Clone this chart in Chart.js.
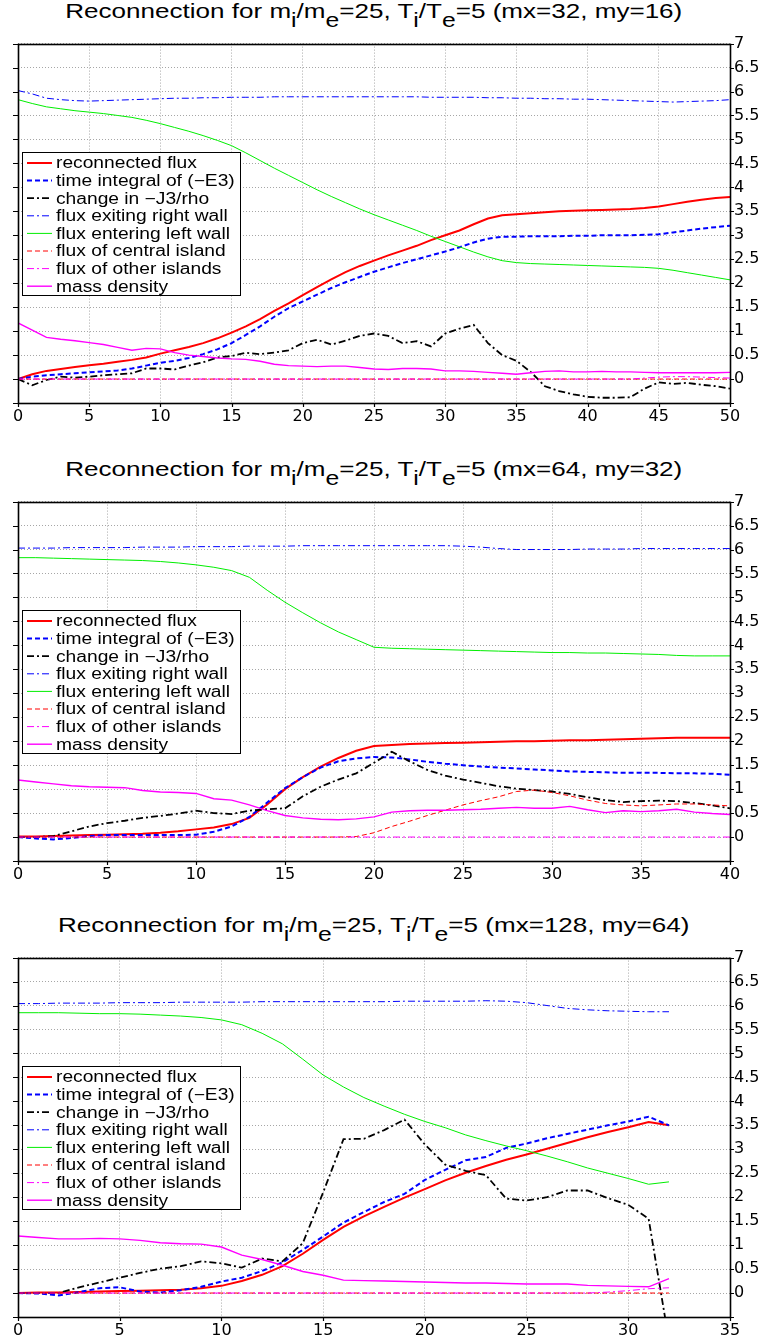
<!DOCTYPE html>
<html lang="en">
<head>
<meta charset="UTF-8">
<title>Reconnection for mi/me=25, Ti/Te=5</title>
<script src="https://cdn.jsdelivr.net/npm/chart.js"></script>
<style>
    body {
        margin: 0;
        width: 767px;
        height: 1339px;
        position: relative;
        overflow: hidden;
        background: #fff;
        font-family: "Liberation Sans", Arial, sans-serif;
    }
    .title {
        position: absolute;
        left: 18px;
        width: 712px;
        height: 24px;
        line-height: 24px;
        text-align: center;
        font-size: 21px;
        color: #000;
        white-space: nowrap;
    }
    .title span {
        display: inline-block;
        transform: scaleX(1.24);
    }
    .title sub {
        font-size: 0.95em;
        vertical-align: -0.45em;
        line-height: 0;
    }
    canvas {
        position: absolute;
        left: 0;
    }
</style>
</head>
<body>
<div class="title" style="top:-1px"><span>Reconnection for m<sub>i</sub>/m<sub>e</sub>=25, T<sub>i</sub>/T<sub>e</sub>=5 (mx=32, my=16)</span></div>
<canvas id="chart1" width="767" height="405" style="top:30px"></canvas>

<div class="title" style="top:457px"><span>Reconnection for m<sub>i</sub>/m<sub>e</sub>=25, T<sub>i</sub>/T<sub>e</sub>=5 (mx=64, my=32)</span></div>
<canvas id="chart2" width="767" height="405" style="top:488px"></canvas>

<div class="title" style="top:913px"><span>Reconnection for m<sub>i</sub>/m<sub>e</sub>=25, T<sub>i</sub>/T<sub>e</sub>=5 (mx=128, my=64)</span></div>
<canvas id="chart3" width="767" height="405" style="top:944px"></canvas>

<script>
// legend labels (same for all three panels)
const labels = ['reconnected flux', 'time integral of (\u2212E3)', 'change in \u2212J3/rho',
    'flux exiting right wall', 'flux entering left wall', 'flux of central island',
    'flux of other islands', 'mass density'];

// ---- panel 1: mx=32, my=16 ----
const t1 = [0,1,2,3,4,5,6,7,8,9,10,11,12,13,14,15,16,17,18,19,20,21,22,23,24,25,26,27,28,29,30,
    31,32,33,34,35,36,37,38,39,40,41,42,43,44,45,46,47,48,49,50];
const p1Reconnected = [0,0.1,0.17,0.21,0.25,0.29,0.32,0.36,0.4,0.45,0.53, 0.6,0.67,0.75,0.85,0.97,1.1,1.25,1.42,1.58,1.75,
    1.92,2.08,2.23,2.36,2.47,2.58,2.68,2.78,2.9,3.0, 3.1,3.23,3.35,3.42,3.44,3.46,3.48,3.5,3.51,3.52,
    3.53,3.54,3.55,3.57,3.6,3.65,3.7,3.74,3.78,3.8];
const p1Integral = [0,0.05,0.08,0.1,0.12,0.14,0.16,0.18,0.22,0.28,0.34, 0.38,0.44,0.52,0.62,0.75,0.92,1.1,1.3,1.48,1.62,
    1.76,1.9,2.02,2.13,2.24,2.33,2.42,2.5,2.58,2.66, 2.75,2.85,2.93,2.97,2.97,2.98,2.98,2.98,2.99,2.99,
    3.0,3.0,3.0,3.01,3.02,3.06,3.1,3.14,3.17,3.2];
const p1J3 = [0,-0.13,-0.02,0.05,0.03,0.05,0.08,0.1,0.12,0.22,0.22, 0.2,0.28,0.35,0.45,0.48,0.55,0.52,0.55,0.6,0.75,
    0.82,0.72,0.8,0.9,0.95,0.9,0.75,0.79,0.68,0.95, 1.05,1.13,0.75,0.5,0.38,0.15,-0.15,-0.25,-0.32,-0.37,
    -0.39,-0.39,-0.38,-0.2,-0.07,-0.1,-0.08,-0.12,-0.15,-0.2];
const p1Right = [6.02,5.95,5.86,5.83,5.81,5.8,5.81,5.82,5.83,5.84,5.85, 5.86,5.86,5.87,5.87,5.88,5.88,5.88,5.89,5.89,5.89,
    5.89,5.89,5.89,5.89,5.89,5.89,5.89,5.89,5.88,5.88, 5.88,5.88,5.87,5.87,5.86,5.86,5.85,5.85,5.84,5.84,
    5.83,5.82,5.81,5.8,5.79,5.78,5.79,5.8,5.81,5.83];
const p1Left = [5.83,5.75,5.68,5.64,5.6,5.57,5.54,5.5,5.46,5.4,5.33, 5.25,5.17,5.08,4.98,4.87,4.72,4.56,4.4,4.25,4.1,
    3.95,3.81,3.68,3.55,3.43,3.32,3.21,3.1,2.98,2.87, 2.76,2.65,2.55,2.47,2.43,2.41,2.4,2.39,2.38,2.37,
    2.36,2.35,2.34,2.33,2.31,2.27,2.22,2.17,2.12,2.07];
const p1Central = [0,0,0,0,0,0,0,0,0,0,0, 0,0,0,0,0,0,0,0,0,0, 0,0,0,0,0,0,0,0,0,0,
    0,0,0,0,0,0,0,0,0,0, 0,0,0,0,0,0,0,0,0,0];
const p1Islands = [0,0,0,0,0,0,0,0,0,0,0, 0,0,0,0,0,0,0,0,0,0, 0,0,0,0,0,0,0,0,0,0,
    0,0,0,0,0,0,0,0,0,0, 0,0,0,0.02,0.04,0.05,0.05,0.04,0.03,0.02];
const p1Mass = [1.17,1.02,0.87,0.83,0.8,0.76,0.72,0.66,0.6,0.64,0.63, 0.55,0.5,0.47,0.44,0.42,0.41,0.37,0.31,0.28,0.27,
    0.26,0.27,0.27,0.24,0.21,0.2,0.22,0.22,0.21,0.17, 0.17,0.16,0.14,0.12,0.1,0.13,0.16,0.17,0.15,0.15,
    0.16,0.15,0.15,0.14,0.13,0.13,0.13,0.13,0.13,0.14];

// ---- panel 2: mx=64, my=32 ----
const t2 = [0,1,2,3,4,5,6,7,8,9,10,11,12,13,14,15,16,17,18,19,20,21,22,23,24,25,26,27,28,29,30,
    31,32,33,34,35,36,37,38,39,40];
const p2Reconnected = [0.01,0.01,0.02,0.03,0.04,0.05,0.06,0.07,0.09,0.12,0.16, 0.2,0.27,0.4,0.68,1.0,1.25,1.47,1.65,1.8,1.9,
    1.92,1.94,1.95,1.96,1.97,1.98,1.99,2.0,2.0,2.01, 2.02,2.02,2.03,2.04,2.05,2.06,2.07,2.07,2.07,2.07];
const p2Integral = [0,-0.03,-0.05,-0.02,0.02,0.04,0.04,0.04,0.04,0.04,0.05, 0.11,0.22,0.42,0.72,1.02,1.25,1.45,1.58,1.64,1.67,
    1.66,1.62,1.57,1.53,1.5,1.47,1.45,1.43,1.41,1.39, 1.37,1.36,1.35,1.34,1.34,1.34,1.33,1.33,1.32,1.3];
const p2J3 = [0,0,0.02,0.12,0.22,0.29,0.34,0.4,0.44,0.49,0.55, 0.5,0.48,0.55,0.58,0.6,0.85,1.05,1.2,1.33,1.55,
    1.78,1.58,1.4,1.28,1.2,1.13,1.06,1.01,0.98,0.95, 0.9,0.83,0.77,0.73,0.75,0.76,0.75,0.71,0.66,0.6];
const p2Right = [6.03,6.03,6.03,6.04,6.04,6.04,6.04,6.05,6.05,6.05,6.06, 6.06,6.06,6.07,6.07,6.07,6.08,6.08,6.08,6.08,6.08,
    6.08,6.08,6.08,6.08,6.07,6.05,6.02,6.0,6.0,6.0, 6.0,6.01,6.01,6.01,6.02,6.02,6.02,6.02,6.02,6.02];
const p2Left = [5.83,5.83,5.82,5.81,5.8,5.79,5.78,5.77,5.75,5.72,5.68, 5.63,5.56,5.42,5.15,4.9,4.68,4.47,4.28,4.12,3.96,
    3.94,3.93,3.92,3.91,3.9,3.89,3.88,3.87,3.86,3.85, 3.85,3.84,3.84,3.83,3.82,3.81,3.79,3.78,3.78,3.78];
const p2Central = [0,0,0,0,0,0,0,0,0,0,0, 0,0,0,0,0,0,0,0,0.01,0.09,
    0.22,0.33,0.45,0.56,0.67,0.76,0.84,0.95,0.98,0.93, 0.86,0.77,0.7,0.67,0.65,0.67,0.69,0.69,0.67,0.65];
const p2Islands = [0,0,0,0,0,0,0,0,0,0,0, 0,0,0,0,0,0,0,0,0,0,
    0,0,0,0,0,0,0,0,0,0, 0,0,0,0,0,0,0,0,0,0];
const p2Mass = [1.19,1.15,1.11,1.07,1.05,1.04,1.03,0.97,0.94,0.93,0.91, 0.8,0.77,0.67,0.55,0.45,0.4,0.37,0.36,0.38,0.42,
    0.52,0.55,0.56,0.56,0.57,0.58,0.6,0.62,0.6,0.6, 0.64,0.57,0.51,0.55,0.53,0.55,0.58,0.52,0.49,0.47];

// ---- panel 3: mx=128, my=64 ----
const t3 = [0,1,2,3,4,5,6,7,8,9,10,11,12,13,14,15,16,17,18,19,20,21,22,23,24,25,26,27,28,29,30,31,32];
const p3Reconnected = [0,0.01,0.01,0.02,0.03,0.04,0.05,0.06,0.07,0.1,0.15, 0.25,0.38,0.56,0.82,1.11,1.38,1.6,1.8,1.99,2.17,
    2.35,2.51,2.65,2.78,2.89,3.01,3.13,3.25,3.36,3.46, 3.57,3.5];
const p3Integral = [0,-0.01,-0.05,0.02,0.1,0.12,0.03,0.01,0.06,0.13,0.24, 0.32,0.46,0.64,0.9,1.18,1.47,1.69,1.9,2.07,2.36,
    2.57,2.77,2.84,3.03,3.12,3.23,3.32,3.41,3.5,3.58, 3.68,3.5];
const p3J3 = [0,0,0,0.12,0.22,0.32,0.42,0.51,0.56,0.66,0.62, 0.53,0.72,0.66,1.04,2.1,3.21,3.22,3.4,3.62,3.1,
    2.68,2.55,2.46,1.97,1.93,2.0,2.14,2.14,1.98,1.84, 1.55,-1.0];
const p3Right = [6.04,6.04,6.05,6.05,6.05,6.06,6.06,6.06,6.07,6.07,6.07, 6.07,6.08,6.08,6.08,6.08,6.08,6.08,6.08,6.09,6.09,
    6.09,6.09,6.1,6.09,6.06,6.0,5.94,5.91,5.89,5.88, 5.87,5.87];
const p3Left = [5.85,5.85,5.85,5.84,5.83,5.83,5.82,5.8,5.78,5.75,5.7, 5.6,5.42,5.2,4.88,4.55,4.3,4.08,3.9,3.73,3.58,
    3.45,3.3,3.18,3.07,2.97,2.86,2.74,2.61,2.5,2.39, 2.27,2.32];
const p3Central = [0,0,0,0,0,0,0,0,0,0,0, 0,0,0,0,0,0,0,0,0,0, 0,0,0,0,0,0,0,0,0,0, 0,0];
const p3Islands = [0,0,0,0,0,0,0,0,0,0,0, 0,0,0,0,0,0,0,0,0,0, 0,0,0,0,0,0,0,0,0.02,0.05, 0.09,0.11];
const p3Mass = [1.19,1.16,1.13,1.13,1.14,1.13,1.1,1.05,1.03,1.02,0.96, 0.79,0.7,0.58,0.45,0.37,0.27,0.26,0.25,0.24,0.23,
    0.22,0.21,0.21,0.2,0.19,0.19,0.19,0.16,0.15,0.14, 0.13,0.3];

// matlab-like line styles, one per legend entry
const styles = [
    { color: '#ff0000', width: 2,   dash: [] },
    { color: '#0000ff', width: 2,   dash: [5, 3] },
    { color: '#000000', width: 1.8, dash: [7, 3, 2, 3] },
    { color: '#0000ff', width: 1,   dash: [7, 3, 2, 3] },
    { color: '#00ee00', width: 1,   dash: [] },
    { color: '#ff0000', width: 1,   dash: [5, 3] },
    { color: '#ff00ff', width: 1,   dash: [7, 3, 2, 3] },
    { color: '#ff00ff', width: 1.4, dash: [] }
];

// box round the axes + outward tick marks
const boxTicks = {
    id: 'boxTicks',
    afterDatasetsDraw(chart) {
        const { ctx, chartArea: a, scales } = chart;
        const L = Math.round(a.left), R = Math.round(a.right), T = Math.round(a.top), B = Math.round(a.bottom);
        ctx.save();
        ctx.setLineDash([]);
        ctx.strokeStyle = '#000';
        ctx.lineWidth = 1.2;
        ctx.beginPath();
        scales.x.ticks.forEach(tk => {
            const px = Math.round(scales.x.getPixelForValue(tk.value)) + 0.5;
            ctx.moveTo(px, B); ctx.lineTo(px, B + 4);
        });
        scales.y.ticks.forEach(tk => {
            const py = Math.round(scales.y.getPixelForValue(tk.value)) + 0.5;
            ctx.moveTo(L, py); ctx.lineTo(L - 5, py);
            ctx.moveTo(R, py); ctx.lineTo(R + 4, py);
        });
        ctx.stroke();
        ctx.lineWidth = 1.6;
        ctx.strokeRect(L + 0.5, T + 0.5, R - L, B - T);
        ctx.restore();
    }
};

// legend box on the west side of the axes
const westLegend = {
    id: 'westLegend',
    afterDraw(chart) {
        const { ctx, chartArea: a } = chart;
        const w = 218, h = 143, rowH = 17.6;
        const x0 = Math.round(a.left) + 4;
        const y0 = Math.round((a.top + a.bottom) / 2 - h / 2);
        ctx.save();
        ctx.setLineDash([]);
        ctx.fillStyle = '#fff';
        ctx.fillRect(x0, y0, w, h);
        ctx.strokeStyle = '#000';
        ctx.lineWidth = 1;
        ctx.strokeRect(x0 + 0.5, y0 + 0.5, w, h);
        chart.data.datasets.forEach((ds, i) => {
            const cy = y0 + 11 + i * rowH;
            ctx.beginPath();
            ctx.setLineDash(ds.borderDash);
            ctx.strokeStyle = ds.borderColor;
            ctx.lineWidth = ds.borderWidth;
            ctx.moveTo(x0 + 5, cy);
            ctx.lineTo(x0 + 30, cy);
            ctx.stroke();
            ctx.setLineDash([]);
            ctx.save();
            ctx.translate(x0 + 34, cy);
            ctx.scale(1.2, 1);
            ctx.fillStyle = '#000';
            ctx.font = '16px "Liberation Sans", Arial, sans-serif';
            ctx.textBaseline = 'middle';
            ctx.fillText(ds.label, 0, 1);
            ctx.restore();
        });
        ctx.restore();
    }
};

function makeChart(id, t, series, xMax) {
    const datasets = series.map((vals, i) => ({
        label: labels[i],
        data: t.map((x, j) => ({ x: x, y: vals[j] })),
        borderColor: styles[i].color,
        borderWidth: styles[i].width,
        borderDash: styles[i].dash,
        pointRadius: 0,
        tension: 0,
        fill: false,
        order: series.length - 1 - i
    }));
    const tickFont = { family: '"DejaVu Sans", sans-serif', size: 16 };
    const gridStyle = { color: 'rgba(0,0,0,0.35)', lineWidth: 1, drawTicks: false };
    return new Chart(document.getElementById(id), {
        type: 'line',
        data: { datasets: datasets },
        plugins: [boxTicks, westLegend],
        options: {
            responsive: false,
            animation: false,
            events: [],
            layout: { padding: { top: 10, left: 18, right: 0, bottom: 0 } },
            plugins: { legend: { display: false }, tooltip: { enabled: false } },
            scales: {
                x: {
                    type: 'linear',
                    min: 0,
                    max: xMax,
                    ticks: { stepSize: 5, color: '#000', font: tickFont, padding: 4, maxRotation: 0, autoSkip: false },
                    grid: gridStyle,
                    border: { display: false, dash: [1, 2] },
                    afterFit(s) { s.height = 32; }
                },
                y: {
                    position: 'right',
                    min: -0.5,
                    max: 7,
                    ticks: {
                        stepSize: 0.5,
                        color: '#000',
                        font: tickFont,
                        padding: 4,
                        callback: v => (v < 0 ? '' : String(Math.round(v * 10) / 10))
                    },
                    grid: gridStyle,
                    border: { display: false, dash: [1, 2] },
                    afterFit(s) { s.width = 37; }
                }
            }
        }
    });
}

makeChart('chart1', t1, [p1Reconnected, p1Integral, p1J3, p1Right, p1Left, p1Central, p1Islands, p1Mass], 50);
makeChart('chart2', t2, [p2Reconnected, p2Integral, p2J3, p2Right, p2Left, p2Central, p2Islands, p2Mass], 40);
makeChart('chart3', t3, [p3Reconnected, p3Integral, p3J3, p3Right, p3Left, p3Central, p3Islands, p3Mass], 35);
</script>
</body>
</html>
